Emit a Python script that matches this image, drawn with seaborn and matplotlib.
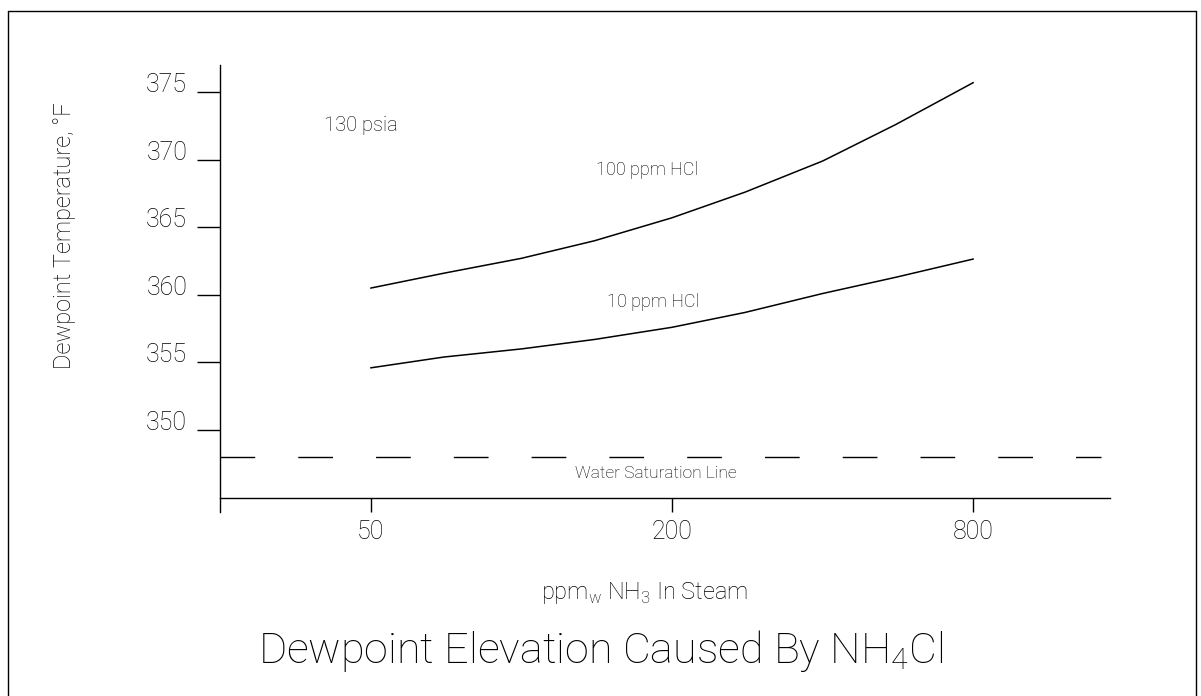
import matplotlib
matplotlib.use("Agg")
import matplotlib.pyplot as plt
from matplotlib.lines import Line2D
from matplotlib.ticker import NullLocator
import seaborn as sns
import pandas as pd

# values: ppm NH3 in steam vs dewpoint (deg F) at 130 psia
ppm_nh3 = [50, 70, 100, 140, 200, 280, 400, 560, 800]
dewpoint_100_hcl = [360.5, 361.6, 362.7, 364.0, 365.7, 367.6, 369.9, 372.6, 375.7]
dewpoint_10_hcl = [354.6, 355.4, 356.0, 356.7, 357.6, 358.7, 360.1, 361.3, 362.65]
water_saturation = 348.0
y_ticks = [350, 355, 360, 365, 370, 375]
x_ticks = [50, 200, 800]
x_tick_labels = ["50", "200", "800"]

df = pd.concat([
    pd.DataFrame({"ppm": ppm_nh3, "temp": dewpoint_100_hcl, "series": "100 ppm HCl"}),
    pd.DataFrame({"ppm": ppm_nh3, "temp": dewpoint_10_hcl, "series": "10 ppm HCl"}),
])

sns.set_style("white")
plt.rcParams["font.family"] = ["Roboto", "DejaVu Sans"]
plt.rcParams["font.weight"] = "light"
plt.rcParams["mathtext.fontset"] = "custom"
plt.rcParams["mathtext.rm"] = "Roboto:light"
ink = "#000000"

fig = plt.figure(figsize=(12.01, 6.96), dpi=100)
ax = fig.add_axes([0.1832, 0.2644, 0.7410, 0.6422])

sns.lineplot(data=df, x="ppm", y="temp", hue="series", palette=[ink, ink],
             legend=False, estimator=None, linewidth=1.1, ax=ax)
ax.axhline(water_saturation, color=ink, lw=1.0, dashes=(25, 31), xmax=0.99)

ax.set_xscale("log")
ax.set_xlim(25, 1500)
ax.set_ylim(343.94, 377.0)
ax.set_xlabel("")
ax.set_ylabel("")

for s in ["top", "right"]:
    ax.spines[s].set_visible(False)
ax.spines["bottom"].set_position(("data", 345))
for s in ["left", "bottom"]:
    ax.spines[s].set_color(ink)
    ax.spines[s].set_linewidth(1.0)

ax.set_xticks(x_ticks, x_tick_labels)
ax.xaxis.set_minor_locator(NullLocator())
ax.set_yticks(y_ticks)
ax.tick_params(axis="x", bottom=True, direction="out", length=10, width=1,
               pad=6, labelsize=18, colors=ink)
ax.tick_params(axis="y", left=True, direction="out", length=16.6, width=1,
               pad=7, labelsize=18, colors=ink)
for lbl in ax.get_yticklabels():
    lbl.set_va("baseline")

ax.text(40.3, 372.5, "130 psia", fontsize=14.5, ha="left", va="center", color=ink)
ax.text(141, 369.2, "100 ppm HCl", fontsize=13, ha="left", va="center", color=ink)
ax.text(148, 359.5, "10 ppm HCl", fontsize=13, ha="left", va="center", color=ink)
ax.text(186, 346.8, "Water Saturation Line", fontsize=12.5, ha="center", va="center", color=ink)

fig.text(0.054, 0.662, "Dewpoint Temperature, °F", rotation=90, fontsize=17,
         ha="center", va="center", color=ink)
fig.text(0.537, 0.148, "ppm$_\\mathrm{w}$ NH$_3$ In Steam", fontsize=17,
         ha="center", va="center", color=ink)
fig.text(0.5, 0.065, "Dewpoint Elevation Caused By NH$_4$Cl", fontsize=31,
         ha="center", va="center", color=ink)

# page frame
l, r, t = 8 / 1201, 1196 / 1201, 1 - 11 / 696
for xs, ys in [([l, l], [0, t]), ([l, r], [t, t]), ([r, r], [t, 0])]:
    fig.add_artist(Line2D(xs, ys, color=ink, lw=1.0))

plt.savefig("out.png", dpi=100)
plt.close()
